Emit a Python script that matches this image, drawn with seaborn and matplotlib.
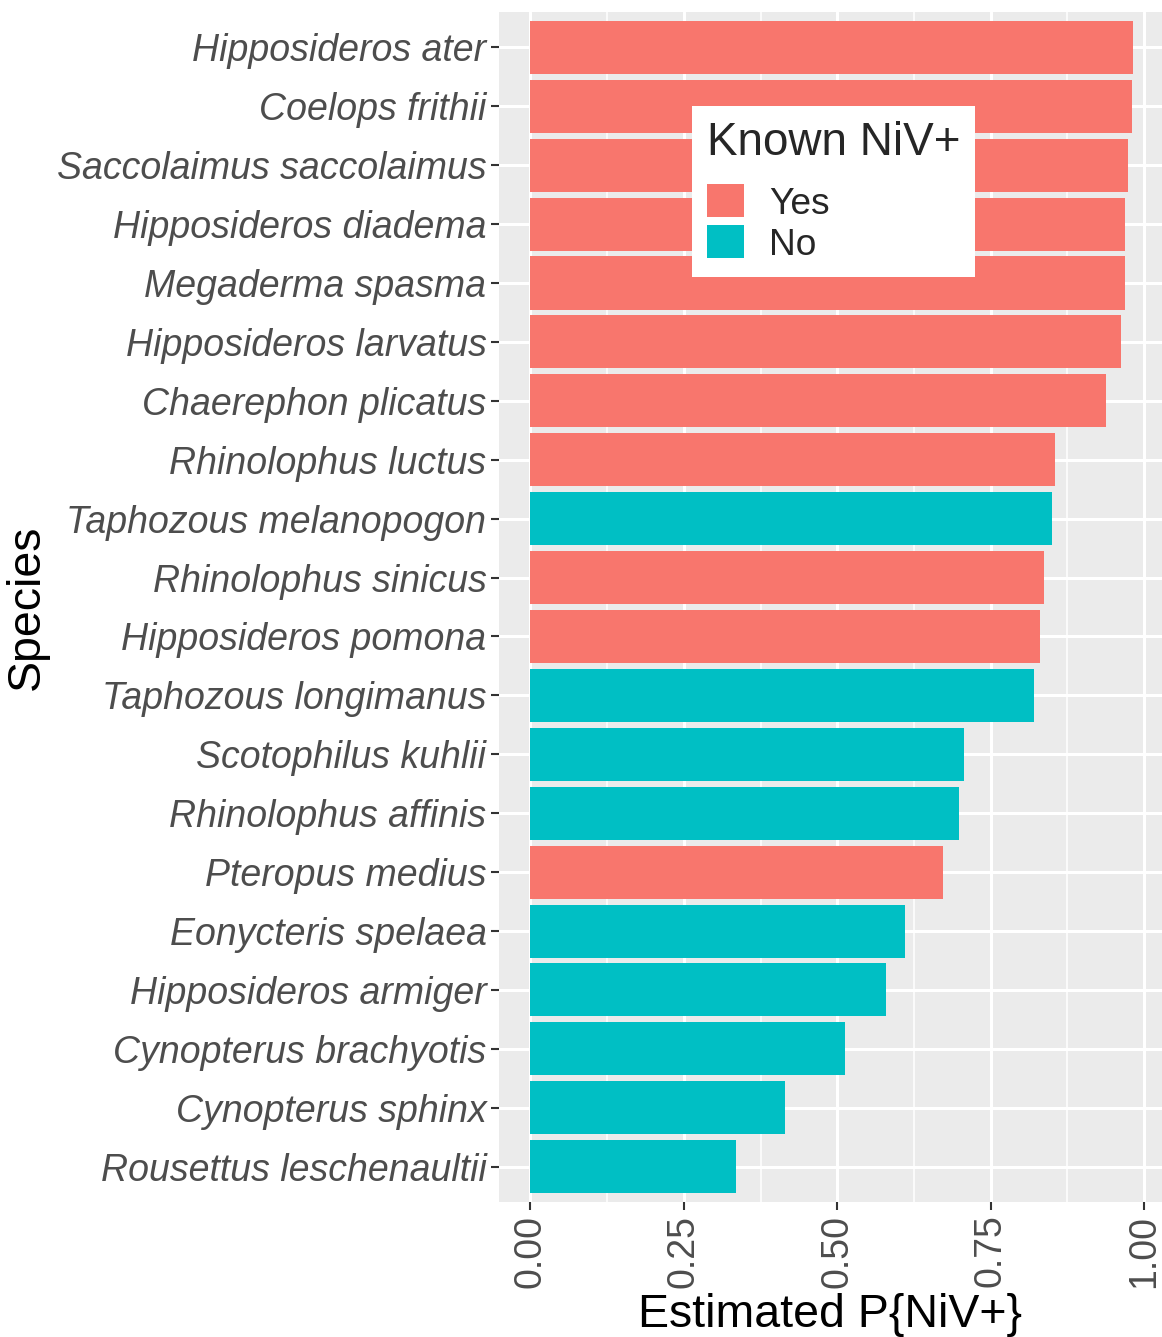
import matplotlib
matplotlib.use("Agg")
import matplotlib.pyplot as plt
import seaborn as sns
import pandas as pd

# Data
species = [
    "Hipposideros ater", "Coelops frithii", "Saccolaimus saccolaimus",
    "Hipposideros diadema", "Megaderma spasma", "Hipposideros larvatus",
    "Chaerephon plicatus", "Rhinolophus luctus", "Taphozous melanopogon",
    "Rhinolophus sinicus", "Hipposideros pomona", "Taphozous longimanus",
    "Scotophilus kuhlii", "Rhinolophus affinis", "Pteropus medius",
    "Eonycteris spelaea", "Hipposideros armiger", "Cynopterus brachyotis",
    "Cynopterus sphinx", "Rousettus leschenaultii",
]
prob = [0.982, 0.980, 0.973, 0.968, 0.968, 0.963, 0.937, 0.854, 0.850, 0.837,
        0.831, 0.821, 0.706, 0.699, 0.673, 0.611, 0.579, 0.512, 0.415, 0.335]
known = ["Yes", "Yes", "Yes", "Yes", "Yes", "Yes", "Yes", "Yes", "No", "Yes",
         "Yes", "No", "No", "No", "Yes", "No", "No", "No", "No", "No"]

xticks = [0.0, 0.25, 0.5, 0.75, 1.0]
xtick_labels = ["0.00", "0.25", "0.50", "0.75", "1.00"]

df = pd.DataFrame({"Species": species, "P": prob, "Known NiV+": known})

sns.set_theme(style="darkgrid")
plt.rcParams['font.family'] = ['Liberation Sans', 'DejaVu Sans']

fig = plt.figure(figsize=(11.62, 13.37), dpi=100)
ax = fig.add_axes([499 / 1162, 1 - 1202 / 1337, 663 / 1162, 1190 / 1337])
ax.set_facecolor('#EBEBEB')

sns.barplot(data=df, y="Species", x="P", hue="Known NiV+",
            hue_order=["Yes", "No"],
            palette={"Yes": "#F8766D", "No": "#00BFC4"},
            dodge=False, width=0.9, orient='h', errorbar=None,
            saturation=1, edgecolor='none', ax=ax)

ax.set_xlim(-0.051, 1.029)
ax.set_ylim(19.6, -0.6)

# grid like ggplot
ax.set_xticks(xticks)
ax.set_xticklabels(xtick_labels, rotation=90)
ax.set_xticks([0.125, 0.375, 0.625, 0.875], minor=True)
ax.grid(which='major', color='white', linewidth=2.2)
ax.grid(which='minor', axis='x', color='white', linewidth=1.1)
ax.set_axisbelow(True)
for s in ax.spines.values():
    s.set_visible(False)

ax.tick_params(axis='both', which='major', bottom=True, left=True,
               length=6, width=1.5, color='#333333', pad=3,
               labelsize=27, labelcolor='#4D4D4D')
ax.tick_params(which='minor', length=0)
for lbl in ax.get_yticklabels():
    lbl.set_style('italic')

ax.set_xlabel("Estimated P{NiV+}", fontsize=33.5, color='black', labelpad=4)
ax.set_ylabel("Species", fontsize=33.5, color='black', labelpad=6)

handles, labels = ax.get_legend_handles_labels()
leg = ax.legend(handles, labels, title="Known NiV+", loc='upper left',
                bbox_to_anchor=(0.291, 0.921), borderaxespad=0,
                frameon=True, facecolor='white', edgecolor='none',
                framealpha=1, fancybox=False, fontsize=26.7,
                title_fontsize=33, handlelength=1, handleheight=1,
                handletextpad=0.68, labelspacing=0.1, borderpad=0.4,
                alignment='left')
leg._legend_box.sep = 14

fig.savefig("out.png", dpi=100)
